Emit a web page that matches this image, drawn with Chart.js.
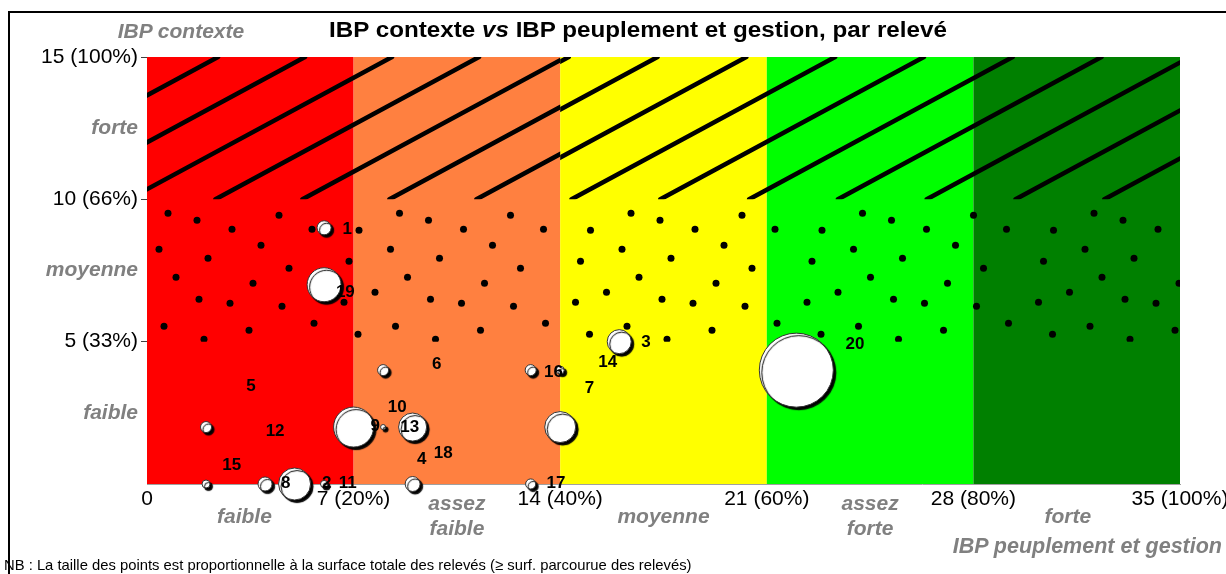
<!DOCTYPE html>
<html lang="fr">
<head>
<meta charset="UTF-8">
<title>IBP contexte vs IBP peuplement et gestion, par relevé</title>
<style>
  body { margin: 0; background: #fff; font-family: 'Liberation Sans', Arial, sans-serif; }
  .page { position: relative; width: 1226px; height: 574px; overflow: hidden; }
  .cadre { position: absolute; left: 8px; top: 11px; width: 1300px; height: 700px;
           border-left: 2px solid #000; border-top: 2px solid #000; }
  .chart-box { position: absolute; left: 0; top: 0; width: 1226px; height: 574px; }
  .txt { position: absolute; white-space: nowrap; line-height: 1; pointer-events: none; }
  .titre { left: 638px; top: 19px; transform: translateX(-50%) scaleX(1.1); font-weight: bold; font-size: 22px; color: #000; }
  .gris { color: #808080; font-weight: bold; font-style: italic; font-size: 21px; }
  .axe-y { left: 181px; top: 20px; transform: translateX(-50%); }
  .axe-x { right: 4px; top: 536px; font-size: 21.5px; }
  .nb { left: 4px; top: 558px; font-size: 14.8px; color: #000; }
</style>
</head>
<body>
<div class="page">
  <div class="cadre"></div>
  <div class="chart-box"><canvas id="graphe"></canvas></div>
  <div class="txt titre">IBP contexte <i>vs</i> IBP peuplement et gestion, par relevé</div>
  <div class="txt gris axe-y">IBP contexte</div>
  <div class="txt gris axe-x">IBP peuplement et gestion</div>
  <div class="txt nb">NB : La taille des points est proportionnelle à la surface totale des relevés (≥ surf. parcourue des relevés)</div>
</div>

<script src="https://cdn.jsdelivr.net/npm/chart.js"></script>
<script>
// Points (un par position visible) : IBP peuplement et gestion, IBP contexte, surface
const ibpGestion  = [6, 6, 2, 2, 4, 5, 6, 7, 8, 9, 8, 9, 13, 13, 14, 14, 16, 22];
const ibpContexte = [9, 7, 2, 0, 0, 0, 0, 2, 2, 2, 4, 0, 4, 0, 2, 4, 5, 4];
const surface     = [3.1, 18, 1.9, 1, 3.1, 16, 0.8, 25, 0.4, 12.3, 1.9, 3.5, 1.9, 1.6, 15, 1, 9, 85.6];

// Numéros des relevés et position de leur étiquette (unités des axes)
const releves  = ['1', '19', '3', '20', '14', '16', '7', '6', '5', '10', '12', '9', '13', '18', '4', '15', '8', '2', '11', '17'];
const etiqX    = [6.78, 6.72, 16.91, 23.99, 15.61, 13.77, 14.99, 9.82, 3.52, 8.48, 4.34, 7.73, 8.9, 10.04, 9.31, 2.87, 4.7, 6.09, 6.8, 13.86];
const etiqY    = [8.96, 6.72, 4.98, 4.92, 4.26, 3.94, 3.36, 4.21, 3.44, 2.69, 1.84, 2.01, 1.99, 1.08, 0.87, 0.64, 0.03, 0.03, 0.03, 0.03];

// Classes de l'IBP peuplement et gestion (axe x)
const classesX     = [0, 7, 14, 21, 28, 35];
const classesXTxt  = ['0', '7 (20%)', '14 (40%)', '21 (60%)', '28 (80%)', '35 (100%)'];
const couleursX    = ['#ff0000', '#ff8040', '#ffff00', '#00ff00', '#008000'];
const niveauxX     = [['faible'], ['assez', 'faible'], ['moyenne'], ['assez', 'forte'], ['forte']];
const niveauxXPos  = [3.3, 10.5, 17.5, 24.5, 31.2];

// Classes de l'IBP contexte (axe y)
const ticksY    = [0, 2.5, 5, 7.5, 10, 12.5, 15];
const ticksYTxt = ['', 'faible', '5 (33%)', 'moyenne', '10 (66%)', 'forte', '15 (100%)'];
const zoneHachures = [10, 15];
const zonePoints   = [5, 10];

const police = "'Liberation Sans', Arial, sans-serif";

// points du motif (relatifs au coin haut-gauche de la zone pointillée)
const motifPoints = [
  [21, 14], [50, 21], [85, 30], [132, 16], [165, 30], [212, 31],
  [12, 50], [61, 59], [114, 46], [142, 69], [202, 62],
  [29, 78], [106, 84], [228, 93],
  [52, 100], [83, 104], [135, 107], [197, 103],
  [17, 127], [57, 140], [102, 131], [167, 124], [211, 135]
];
const motifLargeur = 231.5;

function estNumerique(c) {
  return !c.tick || c.tick.value % 5 === 0;
}

function hachures(ctx, xa, xb, yh, yb, depart, pas, pente) {
  ctx.save();
  ctx.beginPath();
  ctx.rect(xa, yh, xb - xa, yb - yh);
  ctx.clip();
  ctx.strokeStyle = '#000';
  ctx.lineWidth = 4.5;
  ctx.lineCap = 'round';
  const dx = (yb - yh) / pente;
  let t = depart;
  while (t > xa) t -= pas;
  for (; t < xb + dx + pas; t += pas) {
    ctx.beginPath();
    ctx.moveTo(t, yh);
    ctx.lineTo(t - dx, yb);
    ctx.stroke();
  }
  ctx.restore();
}

const fondPlugin = {
  id: 'fond',
  beforeDatasetsDraw(chart) {
    const { ctx, chartArea, scales: { x, y } } = chart;
    ctx.save();
    // bandes de couleur
    for (let i = 0; i < couleursX.length; i++) {
      const x0 = x.getPixelForValue(classesX[i]);
      const x1 = x.getPixelForValue(classesX[i + 1]);
      ctx.fillStyle = couleursX[i];
      ctx.fillRect(x0, chartArea.top, x1 - x0, chartArea.bottom - chartArea.top);
    }
    // hachures (contexte fort)
    const yh = y.getPixelForValue(zoneHachures[1]);
    const yb = y.getPixelForValue(zoneHachures[0]);
    const x0 = x.getPixelForValue(0), x14 = x.getPixelForValue(14), x35 = x.getPixelForValue(35);
    hachures(ctx, x0, x14, yh, yb, x0 + 71, 87, 0.54);
    hachures(ctx, x14, x35, yh, yb, x14 + 8.5, 88.8, 0.54);
    // pointillés (contexte moyen)
    const ph = y.getPixelForValue(zonePoints[1]);
    const pb = y.getPixelForValue(zonePoints[0]);
    ctx.beginPath();
    ctx.rect(x0, ph, x35 - x0, pb - ph);
    ctx.clip();
    ctx.fillStyle = '#000';
    for (let off = x0 - motifLargeur; off < x35; off += motifLargeur) {
      motifPoints.forEach(([px, py]) => {
        ctx.beginPath();
        ctx.arc(off + px, ph + py, 3.5, 0, Math.PI * 2);
        ctx.fill();
      });
    }
    ctx.restore();
  }
};

const ombrePlugin = {
  id: 'ombre',
  beforeDatasetDraw(chart) {
    const ctx = chart.ctx;
    ctx.save();
    ctx.shadowColor = '#000';
    ctx.shadowOffsetX = 2.5;
    ctx.shadowOffsetY = 2.5;
    ctx.shadowBlur = 1;
  },
  afterDatasetDraw(chart) {
    chart.ctx.restore();
  }
};

const etiquettesPlugin = {
  id: 'etiquettes',
  afterDatasetsDraw(chart) {
    const { ctx, scales: { x, y } } = chart;
    ctx.save();
    ctx.font = 'bold 17px ' + police;
    ctx.fillStyle = '#000';
    ctx.textAlign = 'center';
    ctx.textBaseline = 'middle';
    releves.forEach((r, i) => {
      ctx.fillText(r, x.getPixelForValue(etiqX[i]), y.getPixelForValue(etiqY[i]));
    });
    ctx.restore();
  }
};

const niveauxPlugin = {
  id: 'niveaux',
  afterDraw(chart) {
    const { ctx, chartArea, scales: { x } } = chart;
    ctx.save();
    ctx.font = 'italic bold 21px ' + police;
    ctx.fillStyle = '#808080';
    ctx.textAlign = 'center';
    ctx.textBaseline = 'middle';
    niveauxX.forEach((lignes, i) => {
      const cx = x.getPixelForValue(niveauxXPos[i]);
      const y0 = chartArea.bottom + 33 - (lignes.length - 1) * 12.5;
      lignes.forEach((l, j) => ctx.fillText(l, cx, y0 + j * 25));
    });
    ctx.restore();
  }
};

new Chart(document.getElementById('graphe'), {
  type: 'bubble',
  data: {
    datasets: [{
      data: ibpGestion.map((g, i) => ({ x: g, y: ibpContexte[i], r: 4 * Math.sqrt(surface[i]) })),
      backgroundColor: '#ffffff',
      borderColor: '#333333',
      borderWidth: 1,
      clip: false
    }]
  },
  options: {
    responsive: true,
    maintainAspectRatio: false,
    animation: false,
    layout: { padding: { top: 57, right: 46, left: 0, bottom: 0 } },
    plugins: { legend: { display: false }, tooltip: { enabled: false } },
    scales: {
      x: {
        min: 0, max: 35,
        afterBuildTicks: s => { s.ticks = classesX.map(v => ({ value: v })); },
        afterFit: s => { s.height = 90; s.paddingLeft = 0; s.paddingRight = 0; },
        grid: { display: false, drawTicks: false },
        border: { color: '#a0a0a0', width: 1 },
        ticks: {
          padding: 3,
          maxRotation: 0,
          autoSkip: false,
          color: '#000',
          font: { family: police, size: 21 },
          callback: (v, i) => classesXTxt[i]
        }
      },
      y: {
        min: 0, max: 15,
        afterBuildTicks: s => { s.ticks = ticksY.map(v => ({ value: v })); },
        afterFit: s => { s.width = 147; },
        grid: {
          drawOnChartArea: false,
          tickLength: 6,
          color: c => (c.tick && c.tick.value % 5 === 0 && c.tick.value > 0) ? '#404040' : 'rgba(0,0,0,0)'
        },
        border: { color: '#a0a0a0', width: 1 },
        ticks: {
          padding: 3,
          autoSkip: false,
          color: c => estNumerique(c) ? '#000' : '#808080',
          font: c => estNumerique(c)
            ? { family: police, size: 21 }
            : { family: police, size: 21, weight: 'bold', style: 'italic' },
          callback: (v, i) => ticksYTxt[i]
        }
      }
    }
  },
  plugins: [fondPlugin, ombrePlugin, etiquettesPlugin, niveauxPlugin]
});
</script>
</body>
</html>
